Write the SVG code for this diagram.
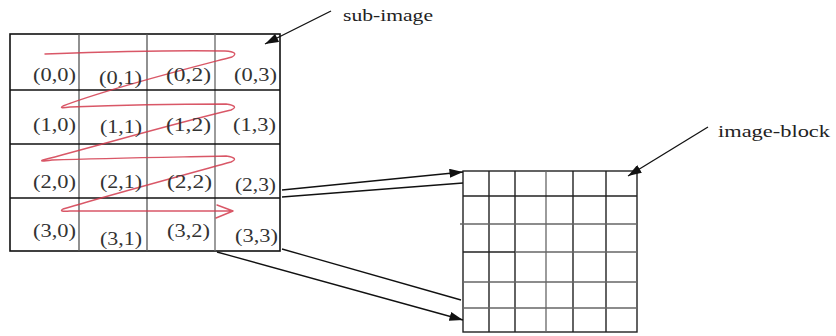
<svg xmlns="http://www.w3.org/2000/svg" width="836" height="336" viewBox="0 0 836 336">
<defs>
<style>
.lbl{font-family:"Liberation Serif","Times New Roman",serif;font-size:18px;fill:#333}
.cap{font-family:"Liberation Serif","Times New Roman",serif;font-size:17px;fill:#222}
.b{fill:none;stroke:#111;stroke-width:1.6}
.g{fill:none;stroke:#555;stroke-width:1.3}
.bl{fill:none;stroke:#222;stroke-width:1.4}
.gl{fill:none;stroke:#666;stroke-width:1.3}
.con{fill:none;stroke:#111;stroke-width:1.3}
.sp{fill:none;stroke:#d23a4c;stroke-width:1.4;stroke-opacity:0.85;stroke-linejoin:round;stroke-linecap:round}
</style>
<marker id="ah" viewBox="0 0 12 8" refX="12" refY="4" markerWidth="14" markerHeight="9" markerUnits="userSpaceOnUse" orient="auto">
<path d="M0,0 L12,4 L0,8 Z" fill="#111"/>
</marker>
</defs>
<rect width="836" height="336" fill="#fff"/>

<g id="sub-image">
<rect x="10" y="34" width="270" height="217" class="b"/>
<line x1="79" y1="34" x2="79" y2="251" class="g"/>
<line x1="147" y1="34" x2="147" y2="251" class="g"/>
<line x1="215" y1="34" x2="215" y2="251" class="gl"/>
<line x1="10" y1="90" x2="280" y2="90" class="b"/>
<line x1="10" y1="144" x2="280" y2="144" class="b"/>
<line x1="10" y1="198" x2="280" y2="198" class="b"/>
<path class="sp" d="M45,54 C100,52 180,50 225,51 Q240,52 232,57 C190,68 110,88 63,106 Q58,109 70,107 C120,105 190,104 226,104 Q240,106 231,110 C180,122 100,145 43,160 Q38,162 52,160 C110,158 180,157 226,156 Q240,158 231,162 C180,176 110,195 63,209 Q58,212 70,211 L232,211 M217,205 L233,211 L216,218"/>
<text class="lbl" x="33" y="81" textLength="43" lengthAdjust="spacingAndGlyphs">(0,0)</text>
<text class="lbl" x="99" y="84" textLength="43" lengthAdjust="spacingAndGlyphs">(0,1)</text>
<text class="lbl" x="166" y="81" textLength="45" lengthAdjust="spacingAndGlyphs">(0,2)</text>
<text class="lbl" x="234" y="81" textLength="43" lengthAdjust="spacingAndGlyphs">(0,3)</text>
<text class="lbl" x="33" y="131" textLength="43" lengthAdjust="spacingAndGlyphs">(1,0)</text>
<text class="lbl" x="100" y="133" textLength="42" lengthAdjust="spacingAndGlyphs">(1,1)</text>
<text class="lbl" x="166" y="131" textLength="45" lengthAdjust="spacingAndGlyphs">(1,2)</text>
<text class="lbl" x="233" y="131" textLength="43" lengthAdjust="spacingAndGlyphs">(1,3)</text>
<text class="lbl" x="33" y="188" textLength="43" lengthAdjust="spacingAndGlyphs">(2,0)</text>
<text class="lbl" x="100" y="188" textLength="42" lengthAdjust="spacingAndGlyphs">(2,1)</text>
<text class="lbl" x="167" y="188" textLength="45" lengthAdjust="spacingAndGlyphs">(2,2)</text>
<text class="lbl" x="235" y="191" textLength="41" lengthAdjust="spacingAndGlyphs">(2,3)</text>
<text class="lbl" x="33" y="237" textLength="43" lengthAdjust="spacingAndGlyphs">(3,0)</text>
<text class="lbl" x="100" y="245" textLength="42" lengthAdjust="spacingAndGlyphs">(3,1)</text>
<text class="lbl" x="167" y="237" textLength="43" lengthAdjust="spacingAndGlyphs">(3,2)</text>
<text class="lbl" x="235" y="242" textLength="43" lengthAdjust="spacingAndGlyphs">(3,3)</text>
</g>

<g id="image-block">
<rect x="463" y="171" width="174" height="161" class="bl"/>
<line x1="489" y1="171" x2="489" y2="332" class="bl"/>
<line x1="515" y1="171" x2="515" y2="332" class="bl"/>
<line x1="546" y1="171" x2="546" y2="332" class="gl"/>
<line x1="573" y1="171" x2="573" y2="332" class="bl"/>
<line x1="606" y1="171" x2="606" y2="332" class="bl"/>
<line x1="463" y1="196" x2="637" y2="196" class="bl"/>
<line x1="460" y1="224" x2="637" y2="224" class="gl"/>
<line x1="463" y1="252" x2="515" y2="252" class="bl"/>
<line x1="515" y1="252" x2="637" y2="252" class="gl"/>
<line x1="463" y1="282" x2="637" y2="282" class="gl"/>
<line x1="463" y1="308" x2="637" y2="308" class="gl"/>
</g>

<g id="label-sub-image">
<text class="cap" x="343" y="21" textLength="90" lengthAdjust="spacingAndGlyphs">sub-image</text>
</g>
<g id="label-image-block">
<text class="cap" x="718" y="137" textLength="112" lengthAdjust="spacingAndGlyphs">image-block</text>
</g>

<g id="connectors">
<line x1="282" y1="190" x2="463" y2="172" class="con" marker-end="url(#ah)"/>
<line x1="282" y1="197" x2="463" y2="183" class="con"/>
<line x1="282" y1="249" x2="461" y2="300" class="con"/>
<line x1="217" y1="252" x2="463" y2="320" class="con" marker-end="url(#ah)"/>
<line x1="331" y1="11" x2="265" y2="44" class="con" marker-end="url(#ah)"/>
<line x1="708" y1="127" x2="628" y2="176" class="con" marker-end="url(#ah)"/>
</g>
</svg>
